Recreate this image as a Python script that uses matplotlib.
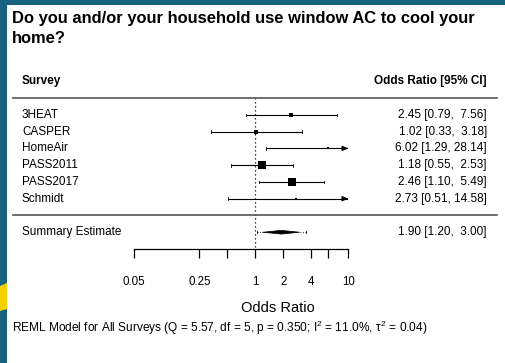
import numpy as np
import matplotlib
matplotlib.use("Agg")
import matplotlib.pyplot as plt
from matplotlib import transforms
from matplotlib.patches import Rectangle, Polygon

plt.rcParams['font.family'] = ['Liberation Sans', 'DejaVu Sans']
plt.rcParams['mathtext.fontset'] = 'custom'
plt.rcParams['mathtext.rm'] = 'Liberation Sans'
plt.rcParams['mathtext.it'] = 'Liberation Sans'

# data
surveys = ["3HEAT", "CASPER", "HomeAir", "PASS2011", "PASS2017", "Schmidt"]
odds = [2.45, 1.02, 6.02, 1.18, 2.46, 2.73]
ci_low = [0.79, 0.33, 1.29, 0.55, 1.10, 0.51]
ci_high = [7.56, 3.18, 28.14, 2.53, 5.49, 14.58]
summary = [1.90, 1.20, 3.00]
pred_int = [1.04, 3.47]
tick_vals = [0.05, 0.25, 0.5, 1, 2, 4, 6, 10]
tick_labels = ["0.05", "0.25", "", "1", "2", "4", "", "10"]
title = "Do you and/or your household use window AC to cool your\nhome?"
footnote = ("REML Model for All Surveys (Q = 5.57, df = 5, p = 0.350; "
            "I$^2$ = 11.0%, $\\tau^2$ = 0.04)")

W, H = 505, 363
TEAL = "#17627f"
YELLOW = "#f5cf00"

fig = plt.figure(figsize=(W / 100, H / 100), dpi=100, facecolor=TEAL)


def fx(px):
    return px / W


def fy(py):
    return 1 - py / H


# white panel and the yellow shape on the left edge
fig.patches.append(Rectangle((fx(7), 0), 1, fy(5), transform=fig.transFigure,
                             facecolor="white", edgecolor="none", zorder=0))
fig.patches.append(Polygon([(0, fy(286)), (fx(7), fy(283)), (fx(7), fy(309)), (0, fy(311))],
                           closed=True, transform=fig.transFigure,
                           facecolor=YELLOW, edgecolor="none", zorder=0))

xmin, xmax = 0.05, 10
ax_left, ax_right = 134.3, 348.3
ax_top, ax_bot = 64.6, 249
ax = fig.add_axes([fx(ax_left), fy(ax_bot), fx(ax_right - ax_left), (ax_bot - ax_top) / H])
ax.set_zorder(2)
ax.patch.set_visible(False)
ax.set_xscale("log")
ax.set_xlim(xmin, xmax)
ax.set_ylim(-2, 9)

k = len(surveys)
rows = np.arange(k, 0, -1)

# weights -> square size (metafor style)
se = (np.log(ci_high) - np.log(ci_low)) / 3.92
wi = 1 / se
psize = 0.5 + 1.5 * (wi - wi.min()) / (wi.max() - wi.min())

for i in range(k):
    y = rows[i]
    lo = max(ci_low[i], xmin)
    hi = min(ci_high[i], xmax)
    ax.plot([lo, hi], [y, y], color="black", lw=0.8, solid_capstyle="butt")
    if ci_high[i] > xmax:
        ax.annotate("", xy=(xmax, y), xytext=(xmax * 0.88, y),
                    arrowprops=dict(arrowstyle="-|>,head_length=0.35,head_width=0.15",
                                    color="black", lw=0.8), annotation_clip=False)
    else:
        ax.plot([hi, hi], [y - 0.08, y + 0.08], color="black", lw=0.6)
    ax.plot([lo, lo], [y - 0.08, y + 0.08], color="black", lw=0.6)
    ax.plot(odds[i], y, marker="s", color="black", markersize=3.1 * psize[i],
            markeredgewidth=0)

# summary diamond + prediction interval
est, slo, shi = summary
ys = -1
h = 0.11
ax.add_patch(Polygon([(slo, ys), (est, ys + h), (shi, ys), (est, ys - h)],
                     closed=True, facecolor="black", edgecolor="black", lw=0.5))
ax.plot([pred_int[0], slo], [ys, ys], color="black", lw=0.6, ls=(0, (1, 2)))
ax.plot([shi, pred_int[1]], [ys, ys], color="black", lw=0.6, ls=(0, (1, 2)))
for p in pred_int:
    ax.plot([p, p], [ys - 0.06, ys + 0.06], color="black", lw=0.6)

# reference line at 1
ax.plot([1, 1], [-1.9, 7], color="black", lw=0.9, ls=(0, (1, 2.2)))

# horizontal separators across the panel
blend = transforms.blended_transform_factory(fig.transFigure, ax.transData)
for y in [k + 1, 0]:
    ax.plot([fx(13), fx(497)], [y, y], transform=blend, color="#555555", lw=1.2,
            clip_on=False)

# axis with downward ticks
for s in ["top", "right", "left"]:
    ax.spines[s].set_visible(False)
ax.spines["bottom"].set_bounds(xmin, xmax)
ax.spines["bottom"].set_linewidth(0.9)
ax.set_xticks(tick_vals)
ax.set_xticklabels(tick_labels)
ax.xaxis.set_minor_locator(matplotlib.ticker.NullLocator())
ax.tick_params(axis="x", direction="out", length=6.5, width=0.9, pad=13, labelsize=8.3)
ax.set_yticks([])

# text columns
fs = 8.5
ax.text(fx(22), k + 2, "Survey", transform=blend, fontsize=fs, fontweight="bold",
        ha="left", va="center")
ax.text(fx(487), k + 2, "Odds Ratio [95% CI]", transform=blend, fontsize=fs,
        fontweight="bold", ha="right", va="center")
for i in range(k):
    ax.text(fx(22), rows[i], surveys[i], transform=blend, fontsize=fs, ha="left", va="center")
    ax.text(fx(487), rows[i], f"{odds[i]:.2f} [{ci_low[i]:.2f}, {ci_high[i]:>5.2f}]",
            transform=blend, fontsize=fs, ha="right", va="center")
ax.text(fx(22), ys, "Summary Estimate", transform=blend, fontsize=fs, ha="left", va="center")
ax.text(fx(487), ys, f"{est:.2f} [{slo:.2f}, {shi:>5.2f}]", transform=blend,
        fontsize=fs, ha="right", va="center")

fig.text(fx(278), fy(308), "Odds Ratio", fontsize=10.5, ha="center", va="center")
fig.text(fx(12), fy(328), footnote, fontsize=8.6, ha="left", va="center")
fig.text(fx(12), fy(28.5), title, fontsize=11.9, fontweight="bold", ha="left", va="center",
         linespacing=1.38)

fig.savefig("out.png", dpi=100, facecolor=TEAL)
